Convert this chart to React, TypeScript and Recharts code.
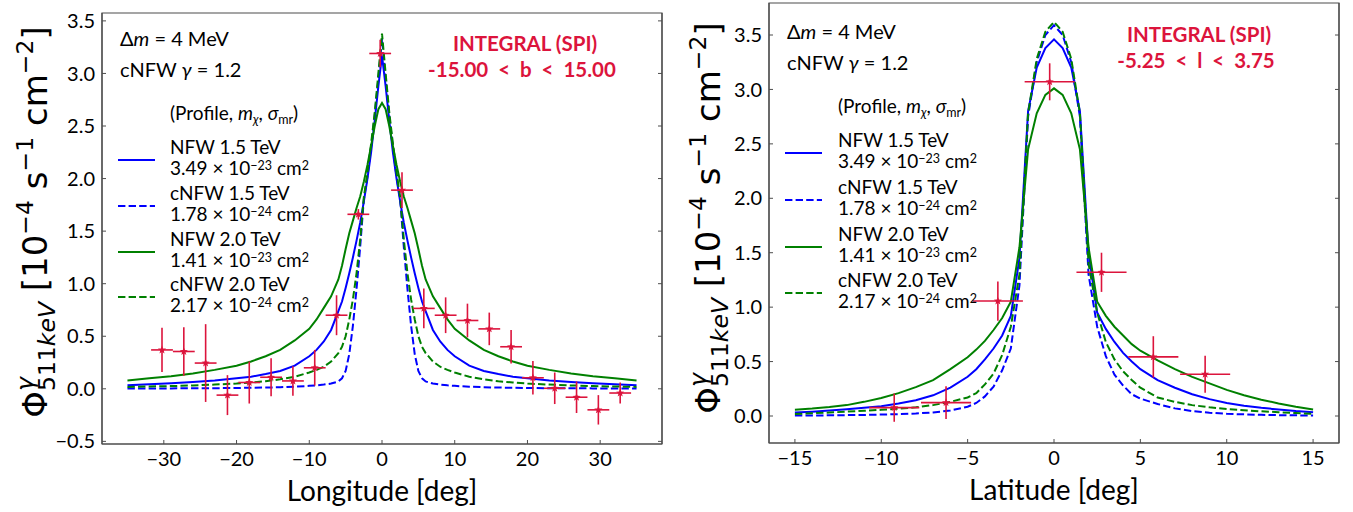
import React from 'react';
import { ComposedChart, Line, Scatter, XAxis, YAxis, ErrorBar, ReferenceArea } from 'recharts';

const BLUE = '#0000ff';
const GREEN = '#008000';
const RED = '#dc143c';
const SPINE = '#4d4d4d';
const FONT = 'Lato, sans-serif';

// ---------- Left panel: longitude profile ----------
const lonX = [-35, -32, -29, -26, -23, -20, -18, -16, -14, -12, -10, -9, -8, -7, -6, -5.5, -5, -4.5, -4, -3.5, -3, -2.5, -2, -1.5, -1, -0.5, 0, 0.5, 1, 1.5, 2, 2.5, 3, 3.5, 4, 4.5, 5, 5.5, 6, 7, 8, 9, 10, 12, 14, 16, 18, 20, 23, 26, 29, 32, 35];
const lonNfw15 = [0.035, 0.043, 0.052, 0.065, 0.08, 0.1, 0.115, 0.14, 0.17, 0.22, 0.31, 0.37, 0.45, 0.56, 0.74, 0.83, 0.96, 1.1, 1.25, 1.41, 1.58, 1.78, 2.0, 2.25, 2.55, 2.88, 3.17, 2.88, 2.55, 2.25, 2.0, 1.78, 1.58, 1.41, 1.25, 1.1, 0.96, 0.83, 0.74, 0.56, 0.45, 0.37, 0.31, 0.22, 0.17, 0.14, 0.115, 0.1, 0.08, 0.065, 0.052, 0.043, 0.035];
const lonCnfw15 = [0.003, 0.003, 0.004, 0.005, 0.006, 0.008, 0.01, 0.012, 0.015, 0.02, 0.028, 0.033, 0.04, 0.05, 0.07, 0.1, 0.17, 0.33, 0.6, 0.95, 1.35, 1.8, 2.02, 2.3, 2.6, 2.95, 3.33, 2.95, 2.6, 2.3, 2.02, 1.8, 1.35, 0.95, 0.6, 0.33, 0.17, 0.1, 0.07, 0.05, 0.04, 0.033, 0.028, 0.02, 0.015, 0.012, 0.01, 0.008, 0.006, 0.005, 0.004, 0.003, 0.003];
const lonNfw20 = [0.08, 0.1, 0.12, 0.145, 0.18, 0.22, 0.26, 0.31, 0.37, 0.46, 0.57, 0.66, 0.77, 0.88, 1.04, 1.17, 1.33, 1.48, 1.6, 1.72, 1.83, 1.97, 2.13, 2.31, 2.5, 2.66, 2.72, 2.66, 2.5, 2.31, 2.13, 1.97, 1.83, 1.72, 1.6, 1.48, 1.33, 1.17, 1.04, 0.88, 0.77, 0.66, 0.57, 0.46, 0.37, 0.31, 0.26, 0.22, 0.18, 0.145, 0.12, 0.1, 0.08];
const lonCnfw20 = [0.018, 0.022, 0.026, 0.032, 0.04, 0.05, 0.06, 0.072, 0.09, 0.115, 0.155, 0.18, 0.21, 0.26, 0.34, 0.4, 0.5, 0.66, 0.85, 1.1, 1.42, 1.82, 2.06, 2.33, 2.63, 3.0, 3.38, 3.0, 2.63, 2.33, 2.06, 1.82, 1.42, 1.1, 0.85, 0.66, 0.5, 0.4, 0.34, 0.26, 0.21, 0.18, 0.155, 0.115, 0.09, 0.072, 0.06, 0.05, 0.04, 0.032, 0.026, 0.022, 0.018];

const lonPtX = [-30.25, -27.25, -24.25, -21.25, -18.25, -15.25, -12.25, -9.25, -6.25, -3.25, -0.25, 2.75, 5.75, 8.75, 11.75, 14.75, 17.75, 20.75, 23.75, 26.75, 29.75, 32.75];
const lonPtY = [0.37, 0.355, 0.245, -0.06, 0.06, 0.11, 0.075, 0.2, 0.7, 1.66, 3.19, 1.89, 0.765, 0.7, 0.65, 0.57, 0.4, 0.105, 0.005, -0.08, -0.2, -0.04];
const lonPtErr = [0.21, 0.23, 0.37, 0.19, 0.2, 0.18, 0.14, 0.17, 0.19, 0.05, 0.13, 0.17, 0.19, 0.17, 0.16, 0.155, 0.16, 0.16, 0.15, 0.15, 0.14, 0.1];
const lonPtXErr = 1.5;

const lonXTicks = [-30, -20, -10, 0, 10, 20, 30];
const lonYTicks = [-0.5, 0, 0.5, 1, 1.5, 2, 2.5, 3, 3.5];

// ---------- Right panel: latitude profile ----------
const latX = [-15, -14, -13, -12, -11, -10, -9, -8, -7, -6, -5, -4.5, -4, -3.5, -3, -2.5, -2, -1.5, -1, -0.5, 0, 0.5, 1, 1.5, 2, 2.5, 3, 3.5, 4, 4.5, 5, 6, 7, 8, 9, 10, 11, 12, 13, 14, 15];
const latNfw15 = [0.032, 0.04, 0.05, 0.063, 0.075, 0.09, 0.115, 0.145, 0.19, 0.26, 0.36, 0.43, 0.52, 0.62, 0.74, 0.92, 1.45, 2.8, 3.2, 3.38, 3.46, 3.38, 3.2, 2.8, 1.5, 0.95, 0.8, 0.68, 0.58, 0.5, 0.43, 0.33, 0.26, 0.2, 0.155, 0.12, 0.095, 0.075, 0.06, 0.045, 0.034];
const latCnfw15 = [0.004, 0.005, 0.006, 0.008, 0.01, 0.013, 0.017, 0.023, 0.033, 0.05, 0.085, 0.12, 0.18, 0.27, 0.42, 0.62, 1.2, 2.75, 3.25, 3.5, 3.59, 3.5, 3.25, 2.75, 1.3, 0.82, 0.55, 0.38, 0.28, 0.2, 0.16, 0.11, 0.07, 0.045, 0.03, 0.02, 0.015, 0.011, 0.008, 0.006, 0.005];
const latNfw20 = [0.058, 0.068, 0.082, 0.1, 0.13, 0.165, 0.21, 0.265, 0.33, 0.43, 0.54, 0.61, 0.69, 0.79, 0.9, 1.05, 1.55, 2.45, 2.78, 2.95, 3.01, 2.95, 2.78, 2.45, 1.55, 1.05, 0.92, 0.82, 0.74, 0.66, 0.6, 0.51, 0.43, 0.36, 0.3, 0.24, 0.19, 0.15, 0.115, 0.085, 0.06];
const latCnfw20 = [0.018, 0.025, 0.032, 0.04, 0.048, 0.057, 0.067, 0.08, 0.1, 0.13, 0.17, 0.21, 0.29, 0.39, 0.56, 0.82, 1.3, 2.78, 3.28, 3.53, 3.62, 3.53, 3.28, 2.78, 1.4, 0.95, 0.68, 0.52, 0.41, 0.33, 0.26, 0.17, 0.13, 0.1, 0.08, 0.065, 0.053, 0.043, 0.035, 0.027, 0.02];

const latPtX = [-9.25, -6.25, -3.25, -0.25, 2.75, 5.75, 8.75];
const latPtY = [0.077, 0.123, 1.056, 3.07, 1.32, 0.543, 0.384];
const latPtErr = [0.13, 0.15, 0.18, 0.17, 0.18, 0.19, 0.17];
const latPtXErr = 1.45;

const latXTicks = [-15, -10, -5, 0, 5, 10, 15];
const latYTicks = [0, 0.5, 1, 1.5, 2, 2.5, 3, 3.5];

// ---------- Legend / annotation text ----------
const legendNames = ['NFW 1.5 TeV', 'cNFW 1.5 TeV', 'NFW 2.0 TeV', 'cNFW 2.0 TeV'];
const legendMantissa = ['3.49', '1.78', '1.41', '2.17'];
const legendExp = ['\u221223', '\u221224', '\u221223', '\u221224'];
const legendColors = [BLUE, BLUE, GREEN, GREEN];
const legendDashed = [false, true, false, true];

const toSeries = (xs: number[], ys: number[]) => xs.map((x, i) => ({ x, y: ys[i] }));
const toPoints = (xs: number[], ys: number[], es: number[], ex: number) =>
  xs.map((x, i) => ({ x, y: ys[i], ey: es[i], ex }));

const minus = (v: number) => (v < 0 ? '\u2212' : '');
const fmtY = (v: number) => minus(v) + Math.abs(v).toFixed(1);
const fmtX = (v: number) => minus(v) + String(Math.abs(v));

function StarShape(props: any) {
  const { cx, cy } = props;
  if (cx == null || cy == null || isNaN(cx) || isNaN(cy)) return <g />;
  const pts: string[] = [];
  for (let i = 0; i < 10; i++) {
    const r = i % 2 === 0 ? 4.3 : 1.8;
    const a = -Math.PI / 2 + (i * Math.PI) / 5;
    pts.push(`${(cx + r * Math.cos(a)).toFixed(2)},${(cy + r * Math.sin(a)).toFixed(2)}`);
  }
  return <polygon points={pts.join(' ')} fill={RED} />;
}

const EmptyTick = () => <g />;

const DASH = '7.4 3.2';

function Panel(props: any) {
  const { left, width, margin, xDomain, yDomain, xTicks, yTicks, xs, nfw15, cnfw15, nfw20, cnfw20, pts } = props;
  const axisLine = { stroke: SPINE, strokeWidth: 1.2 };
  const tickLine = { stroke: SPINE, strokeWidth: 1 };
  const tickStyle = { fill: '#000', fontSize: 20, fontFamily: FONT };
  return (
    <div style={{ position: 'absolute', left, top: 0 }}>
      <ComposedChart width={width} height={512} margin={margin}>
        <XAxis
          type="number"
          dataKey="x"
          domain={xDomain}
          ticks={xTicks}
          interval={0}
          allowDataOverflow
          tickFormatter={fmtX}
          height={30}
          axisLine={axisLine}
          tickLine={tickLine}
          tickSize={-4}
          tickMargin={12}
          tick={tickStyle}
        />
        <YAxis
          type="number"
          dataKey="y"
          domain={yDomain}
          ticks={yTicks}
          interval={0}
          allowDataOverflow
          tickFormatter={fmtY}
          width={60}
          axisLine={axisLine}
          tickLine={tickLine}
          tickSize={-4}
          tickMargin={11}
          tick={tickStyle}
        />
        <YAxis
          yAxisId="right"
          orientation="right"
          type="number"
          domain={yDomain}
          ticks={yTicks}
          interval={0}
          allowDataOverflow
          width={1}
          axisLine={axisLine}
          tickLine={tickLine}
          tickSize={-4}
          tick={EmptyTick}
        />
        <ReferenceArea
          x1={xDomain[0]}
          x2={xDomain[1]}
          y1={yDomain[0]}
          y2={yDomain[1]}
          fill="none"
          fillOpacity={0}
          stroke={SPINE}
          strokeWidth={1.2}
          ifOverflow="visible"
        />
        <Line data={toSeries(xs, nfw15)} dataKey="y" stroke={BLUE} strokeWidth={2} dot={false} isAnimationActive={false} />
        <Line data={toSeries(xs, cnfw15)} dataKey="y" stroke={BLUE} strokeWidth={2} strokeDasharray={DASH} dot={false} isAnimationActive={false} />
        <Line data={toSeries(xs, nfw20)} dataKey="y" stroke={GREEN} strokeWidth={2} dot={false} isAnimationActive={false} />
        <Line data={toSeries(xs, cnfw20)} dataKey="y" stroke={GREEN} strokeWidth={2} strokeDasharray={DASH} dot={false} isAnimationActive={false} />
        <Line yAxisId="right" data={toSeries(xs, nfw15)} dataKey="y" stroke="none" strokeWidth={0} dot={false} legendType="none" isAnimationActive={false} />
        <Scatter data={pts} dataKey="y" shape={StarShape} isAnimationActive={false}>
          <ErrorBar dataKey="ey" direction="y" width={0} stroke={RED} strokeWidth={1.6} />
          <ErrorBar dataKey="ex" direction="x" width={0} stroke={RED} strokeWidth={1.6} />
        </Scatter>
      </ComposedChart>
    </div>
  );
}

function YLabel({ x, y }: { x: number; y: number }) {
  const big = 34;
  const small = 23.5;
  return (
    <text x={x} y={y} transform={`rotate(-90 ${x} ${y})`} textAnchor="middle" fontFamily="DejaVu Sans" fontSize={big} fill="#000">
      <tspan>Φ</tspan>
      <tspan fontSize={small} dy={-14} fontStyle="italic">γ</tspan>
      <tspan fontSize={small} dx={-14} dy={22}>511</tspan>
      <tspan fontSize={small} fontStyle="italic">keV</tspan>
      <tspan dy={-8}>{' [10'}</tspan>
      <tspan fontSize={small} dy={-14}>{'\u22124'}</tspan>
      <tspan dy={14}>{' s'}</tspan>
      <tspan fontSize={small} dy={-14}>{'\u22121'}</tspan>
      <tspan dy={14}>{' cm'}</tspan>
      <tspan fontSize={small} dy={-14}>{'\u22122'}</tspan>
      <tspan dy={14}>]</tspan>
    </text>
  );
}

function Annotations({ x0, legendX0, legendTextX, legendY, rangeText, redX, redY }: any) {
  const fs = 19;
  const sfs = 12.5;
  return (
    <g fontFamily={FONT} fill="#000">
      <text x={x0} y={legendY[0] - 114} fontSize={20}>
        Δ<tspan fontStyle="italic">m</tspan> = 4 MeV
      </text>
      <text x={x0} y={legendY[0] - 83} fontSize={20}>
        cNFW <tspan fontStyle="italic">γ</tspan> = 1.2
      </text>
      <text x={legendTextX} y={legendY[0] - 40} fontSize={fs}>
        (Profile, <tspan fontStyle="italic">m</tspan>
        <tspan fontSize={sfs} dy={4} fontStyle="italic">χ</tspan>
        <tspan dy={-4}>, </tspan>
        <tspan fontStyle="italic">σ</tspan>
        <tspan fontSize={sfs} dy={4}>mr</tspan>
        <tspan dy={-4}>)</tspan>
      </text>
      {legendNames.map((n, i) => (
        <g key={n}>
          <line
            x1={legendX0}
            x2={legendX0 + 37}
            y1={legendY[i]}
            y2={legendY[i]}
            stroke={legendColors[i]}
            strokeWidth={2}
            strokeDasharray={legendDashed[i] ? DASH : undefined}
          />
          <text x={legendTextX} y={legendY[i] - 6} fontSize={fs}>{n}</text>
          <text x={legendTextX} y={legendY[i] + 15} fontSize={fs}>
            {legendMantissa[i]} × 10
            <tspan fontSize={sfs} dy={-5}>{legendExp[i]}</tspan>
            <tspan dy={5}> cm</tspan>
            <tspan fontSize={sfs} dy={-5}>2</tspan>
          </text>
        </g>
      ))}
      <text x={redX} y={redY} fontSize={20.5} fontWeight="bold" fill={RED} textAnchor="middle">
        INTEGRAL (SPI)
      </text>
      <text x={redX - 3} y={redY + 26} fontSize={20.5} fontWeight="bold" fill={RED} textAnchor="middle" style={{ whiteSpace: 'pre' }}>
        {rangeText}
      </text>
    </g>
  );
}

export default function App() {
  const lonPts = toPoints(lonPtX, lonPtY, lonPtErr, lonPtXErr);
  const latPts = toPoints(latPtX, latPtY, latPtErr, latPtXErr);
  return (
    <div style={{ position: 'absolute', left: 0, top: 0, width: 1353, height: 512, background: '#fff', overflow: 'hidden' }}>
      <Panel
        left={0}
        width={680}
        margin={{ top: 13, right: 17, bottom: 38, left: 42 }}
        xDomain={[-38.5, 38.5]}
        yDomain={[-0.525, 3.575]}
        xTicks={lonXTicks}
        yTicks={lonYTicks}
        xs={lonX}
        nfw15={lonNfw15}
        cnfw15={lonCnfw15}
        nfw20={lonNfw20}
        cnfw20={lonCnfw20}
        pts={lonPts}
      />
      <Panel
        left={680}
        width={673}
        margin={{ top: 3, right: 13, bottom: 39, left: 29 }}
        xDomain={[-16.5, 16.5]}
        yDomain={[-0.248, 3.794]}
        xTicks={latXTicks}
        yTicks={latYTicks}
        xs={latX}
        nfw15={latNfw15}
        cnfw15={latCnfw15}
        nfw20={latNfw20}
        cnfw20={latCnfw20}
        pts={latPts}
      />
      <svg width={1353} height={512} style={{ position: 'absolute', left: 0, top: 0, pointerEvents: 'none' }}>
        <YLabel x={47} y={222} />
        <YLabel x={720} y={218} />
        <text x={382} y={501} textAnchor="middle" fontFamily={FONT} fontSize={28} fill="#000">Longitude [deg]</text>
        <text x={1054} y={500} textAnchor="middle" fontFamily={FONT} fontSize={28} fill="#000">Latitude [deg]</text>
        <Annotations
          x0={120}
          legendX0={118}
          legendTextX={170}
          legendY={[160, 206, 252, 297]}
          rangeText={'-15.00  <  b  <  15.00'}
          redX={525}
          redY={51}
        />
        <Annotations
          x0={787}
          legendX0={785}
          legendTextX={838}
          legendY={[153, 200, 247, 293]}
          rangeText={'-5.25  <  l  <  3.75'}
          redX={1199}
          redY={42}
        />
      </svg>
    </div>
  );
}
